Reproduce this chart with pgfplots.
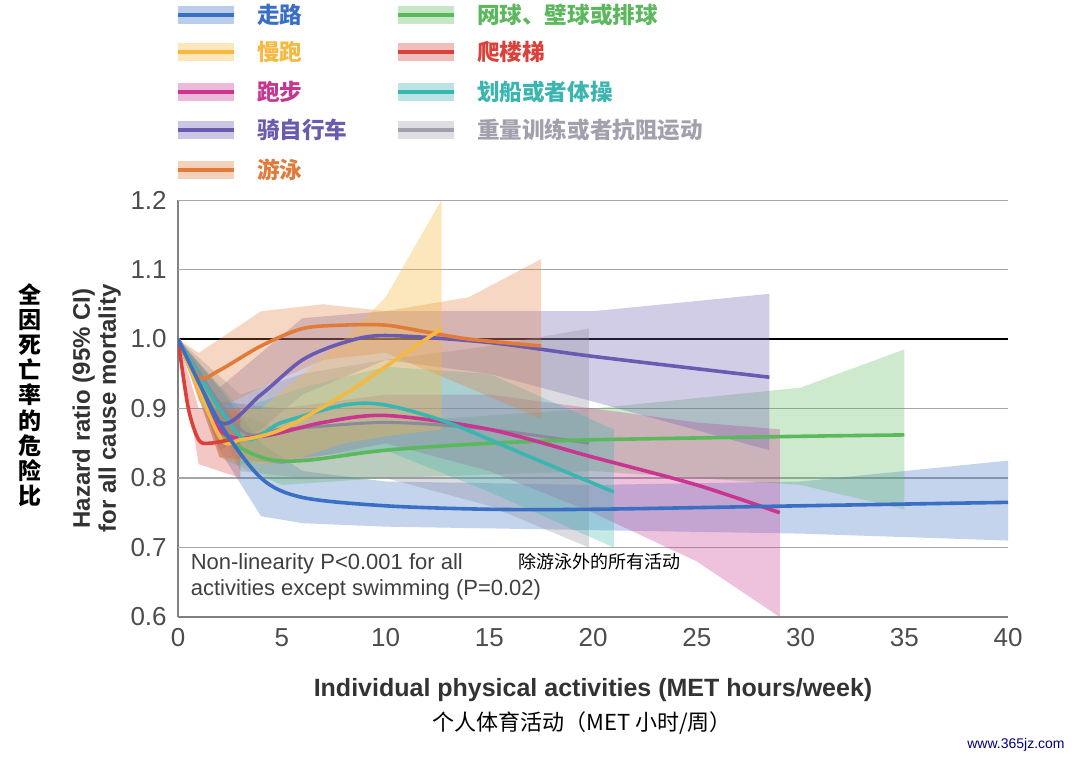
\documentclass[border=0pt]{standalone}
\usepackage{pgfplots}
\pgfplotsset{compat=1.18}
\usepackage{fontspec}
\setmainfont{Liberation Sans}
\newfontfamily\cjk{Noto Sans CJK SC}
\definecolor{cwalk}{HTML}{3A6FC4}
\definecolor{cjog}{HTML}{F5B942}
\definecolor{crun}{HTML}{C8368F}
\definecolor{ccyc}{HTML}{6A5BB0}
\definecolor{cswim}{HTML}{E07B3A}
\definecolor{cten}{HTML}{5CB85C}
\definecolor{cstair}{HTML}{D9413A}
\definecolor{crow}{HTML}{3AB5B0}
\definecolor{cwt}{HTML}{8A8A99}
\newcommand{\legentry}[4]{%
  \fill[#3,opacity=0.35] (#1pt,#2pt-4.5pt) rectangle (#1pt+28pt,#2pt+4.5pt);
  \draw[#3,line width=1.6pt] (#1pt,#2pt) -- (#1pt+28pt,#2pt);
  \node[anchor=west,text=#3,font=\cjk\bfseries\fontsize{11.3}{12}\selectfont] at (#1pt+36pt,#2pt) {#4};}
\begin{document}
\begin{tikzpicture}
\useasboundingbox (0,0) rectangle (540pt,380.5pt);
\begin{axis}[at={(89pt,72pt)},anchor=origin,scale only axis,width=415pt,height=208.5pt,
  xmin=0,xmax=40,ymin=0.6,ymax=1.2,axis lines=left,axis line style={-,gray,line width=0.8pt},
  xtick={0,5,...,40},ytick={0.6,0.7,...,1.2},
  yticklabel style={/pgf/number format/.cd,fixed,fixed zerofill,precision=1},
  /pgf/number format/assume math mode=true,
  tick style={draw=none},
  ticklabel style={font=\fontsize{13}{14}\selectfont,text=black!70},
  ylabel={Hazard ratio (95\% CI)\\for all cause mortality},
  ylabel style={align=center,font=\bfseries\fontsize{12}{13}\selectfont,text=black!80,yshift=-2pt},
  xlabel={Individual physical activities (MET hours/week)},
  xlabel style={font=\bfseries\fontsize{12.5}{13}\selectfont,text=black!80,yshift=-9pt},
  clip=true]
\foreach \yy in {0.7,0.8,0.9,1.1,1.2}{\edef\t{\noexpand\draw[gray!70,line width=0.8pt] (axis cs:0,\yy) -- (axis cs:40,\yy);}\t}
\draw[black,line width=0.9pt] (axis cs:0,1.0) -- (axis cs:40,1.0);
% bands
\addplot[fill=cwalk,fill opacity=0.3,draw=none] coordinates {(0,1.0)(2,0.93)(4,0.85)(6,0.81)(10,0.795)(20,0.79)(30,0.795)(40,0.825)(40,0.71)(30,0.72)(20,0.725)(10,0.73)(6,0.735)(4,0.745)(2,0.84)(0,1.0)} -- cycle;
\addplot[fill=cten,fill opacity=0.3,draw=none] coordinates {(0,1)(2,0.9)(5,0.87)(10,0.88)(20,0.9)(30,0.93)(35,0.985)(35,0.755)(30,0.79)(20,0.81)(10,0.8)(5,0.79)(2,0.83)(0,1)} -- cycle;
\addplot[fill=crun,fill opacity=0.3,draw=none] coordinates {(0,1)(2,0.91)(5,0.9)(10,0.92)(15,0.92)(20,0.9)(25,0.88)(29,0.87)(29,0.6)(25,0.68)(20,0.75)(15,0.81)(10,0.85)(5,0.82)(2,0.83)(0,1)} -- cycle;
\addplot[fill=ccyc,fill opacity=0.3,draw=none] coordinates {(0,1)(2,0.93)(4,0.98)(6,1.03)(10,1.04)(15,1.04)(20,1.04)(28.5,1.065)(28.5,0.84)(20,0.91)(15,0.95)(10,0.97)(6,0.92)(4,0.87)(2,0.84)(0,1)} -- cycle;
\addplot[fill=cwt,fill opacity=0.3,draw=none] coordinates {(0,1)(3,0.92)(6,0.95)(10,0.97)(15,0.99)(19.8,1.015)(19.8,0.70)(15,0.76)(10,0.8)(6,0.8)(3,0.81)(0,1)} -- cycle;
\addplot[fill=crow,fill opacity=0.3,draw=none] coordinates {(0,1)(3,0.9)(6,0.93)(10,0.96)(15,0.95)(21,0.87)(21,0.70)(15,0.78)(10,0.84)(6,0.83)(3,0.82)(0,1)} -- cycle;
\addplot[fill=cswim,fill opacity=0.3,draw=none] coordinates {(0,1)(1,0.98)(2,1.0)(4,1.04)(7,1.05)(10,1.04)(14,1.06)(17.5,1.115)(17.5,0.885)(14,0.93)(10,0.98)(7,0.97)(4,0.93)(2,0.9)(1,0.91)(0,1)} -- cycle;
\addplot[fill=cjog,fill opacity=0.35,draw=none] coordinates {(0,1)(2,0.9)(4,0.9)(6,0.95)(8,1.0)(10,1.06)(12.7,1.2)(12.7,0.87)(10,0.86)(8,0.85)(6,0.83)(4,0.82)(2,0.83)(0,1)} -- cycle;
\addplot[fill=cstair,fill opacity=0.3,draw=none] coordinates {(0,1)(1,0.9)(2,0.9)(3,0.9)(3,0.8)(2,0.81)(1,0.82)(0,1)} -- cycle;
% lines
\addplot[cwt,line width=1.5pt,smooth] coordinates {(0,1)(3,0.87)(5,0.87)(10,0.88)(15,0.87)(19.8,0.85)};
\addplot[cten,line width=1.8pt,smooth] coordinates {(0,1)(2,0.87)(4,0.83)(6,0.825)(10,0.84)(15,0.85)(20,0.855)(30,0.86)(35,0.862)};
\addplot[crun,line width=1.8pt,smooth] coordinates {(0,1)(2,0.87)(4,0.86)(7,0.88)(10,0.89)(15,0.87)(20,0.83)(25,0.79)(29,0.75)};
\addplot[crow,line width=1.8pt,smooth] coordinates {(0,1)(3,0.86)(5,0.88)(8,0.905)(10,0.905)(13,0.88)(17,0.83)(21,0.78)};
\addplot[ccyc,line width=1.8pt,smooth] coordinates {(0,1)(2,0.88)(4,0.92)(6,0.97)(8,0.995)(10,1.005)(15,0.995)(20,0.975)(28.5,0.945)};
\addplot[cswim,line width=1.8pt,smooth] coordinates {(0,1)(1,0.945)(2,0.955)(4,0.99)(6,1.015)(8,1.02)(10,1.02)(12,1.01)(14,1.0)(17.5,0.99)};
\addplot[cjog,line width=1.8pt,smooth] coordinates {(0,1)(2,0.86)(3,0.855)(5,0.87)(8,0.92)(10,0.96)(12.7,1.015)};
\addplot[cstair,line width=1.8pt,smooth] coordinates {(0,1)(0.5,0.9)(1,0.855)(1.5,0.85)(2.5,0.855)};
\addplot[cwalk,line width=1.8pt,smooth] coordinates {(0,1)(2,0.88)(4,0.8)(6,0.772)(10,0.76)(15,0.755)(20,0.755)(30,0.76)(40,0.765)};
\node[anchor=north west,align=left,text=black!75,font=\fontsize{11}{13}\selectfont,inner sep=1pt] at (axis cs:0.5,0.695) {Non-linearity P<0.001 for all\\activities except swimming (P=0.02)};
\node[anchor=north west,font=\cjk\fontsize{9}{11}\selectfont,inner sep=1pt] at (axis cs:16.3,0.695) {除游泳外的所有活动};
\end{axis}
\legentry{89}{373}{cwalk}{走路}
\legentry{89}{354.5}{cjog}{慢跑}
\legentry{89}{334.5}{crun}{跑步}
\legentry{89}{315.5}{ccyc}{骑自行车}
\legentry{89}{295.5}{cswim}{游泳}
\legentry{199}{373}{cten}{网球、壁球或排球}
\legentry{199}{354.5}{cstair}{爬楼梯}
\legentry{199}{334.5}{crow}{划船或者体操}
\legentry{199}{315.5}{cwt!80}{重量训练或者抗阻运动}
\node[font=\cjk\bfseries\fontsize{11.5}{12.6}\selectfont,align=center] at (15pt,183pt) {全\\因\\死\\亡\\率\\的\\危\\险\\比};
\node[font=\cjk\fontsize{11}{12}\selectfont] at (291pt,19pt) {个人体育活动（MET 小时/周）};
\node[font=\fontsize{7}{8}\selectfont,text=blue!50!black] at (508pt,8pt) {www.365jz.com};
\end{tikzpicture}
\end{document}
